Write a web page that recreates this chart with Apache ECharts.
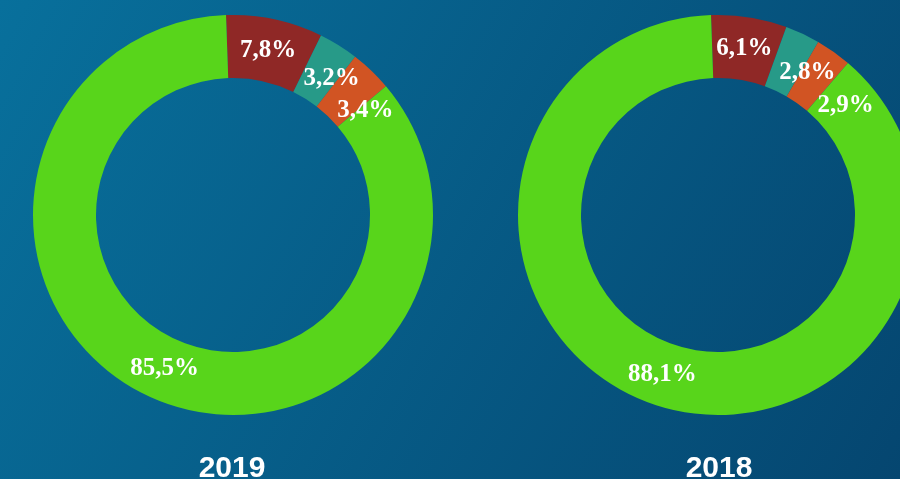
<!DOCTYPE html>
<html>
<head>
<meta charset="utf-8">
<title>2019 / 2018</title>
<script src="https://cdn.jsdelivr.net/npm/echarts@6/dist/echarts.min.js"></script>
<style>
  html, body { margin: 0; padding: 0; }
  #chart { width: 900px; height: 479px; }
</style>
</head>
<body>
<div id="chart"></div>
<script>
// Data
const years = ['2019', '2018']
const parts = ['A', 'B', 'C', 'D']
const values2019 = [7.8, 3.2, 3.4, 85.5]
const values2018 = [6.1, 2.8, 2.9, 88.1]
const colors = ['#8f2826', '#279a88', '#d15423', '#58d51b']

const centers = [[233, 215], [718, 215]]
const inner = 137
const outer = 200
const midR = (inner + outer) / 2

const chart = echarts.init(document.getElementById('chart'))

// small slices can't hold their labels: slide a label along the ring
// (clockwise) until it no longer runs into the previous ones
const placed = {}
function overlaps(a, b, pad) {
  return a.x < b.x + b.w + pad && b.x < a.x + a.w + pad &&
         a.y < b.y + b.h + pad && b.y < a.y + a.h + pad
}
function spreadLabels(p) {
  const c = centers[p.seriesIndex]
  const r = p.labelRect
  if (p.dataIndex === 0) placed[p.seriesIndex] = []
  const list = placed[p.seriesIndex] || (placed[p.seriesIndex] = [])
  let ang = Math.atan2(r.x + r.width / 2 - c[0], c[1] - (r.y + r.height / 2))
  let x, y, box
  for (let k = 0; k < 120; k++) {
    x = c[0] + midR * Math.sin(ang)
    y = c[1] - midR * Math.cos(ang)
    box = { x: x - r.width / 2, y: y - r.height / 2, w: r.width, h: r.height }
    if (!list.some(b => overlaps(box, b, 6))) break
    ang += Math.PI / 180
  }
  list[p.dataIndex] = box
  return { x: x, y: y, align: 'center', verticalAlign: 'middle' }
}

function ring(values, center) {
  return {
    type: 'pie',
    center: center,
    radius: [inner, outer],
    startAngle: 92,
    clockwise: true,
    silent: true,
    avoidLabelOverlap: false,
    labelLayout: spreadLabels,
    label: {
      show: true,
      position: 'inside',
      color: '#fff',
      fontFamily: '"Liberation Serif", serif',
      fontWeight: 'bold',
      fontSize: 25,
      formatter: p => String(p.value).replace('.', ',') + '%'
    },
    labelLine: { show: false },
    itemStyle: { borderWidth: 0 },
    data: values.map((v, i) => ({
      name: parts[i],
      value: v,
      itemStyle: { color: colors[i] }
    }))
  }
}

const option = {
  backgroundColor: new echarts.graphic.LinearGradient(0, 0, 1, 1, [
    { offset: 0, color: '#08709c' },
    { offset: 1, color: '#054670' }
  ]),
  title: years.map((y, i) => ({
    text: y,
    left: i === 0 ? 227 : 714,
    top: 449,
    textAlign: 'center',
    textStyle: {
      color: '#fff',
      fontFamily: '"Liberation Sans", Arial, sans-serif',
      fontWeight: 'bold',
      fontSize: 30
    }
  })),
  series: [
    ring(values2019, centers[0]),
    ring(values2018, centers[1])
  ]
}

chart.setOption(option)
</script>
</body>
</html>
